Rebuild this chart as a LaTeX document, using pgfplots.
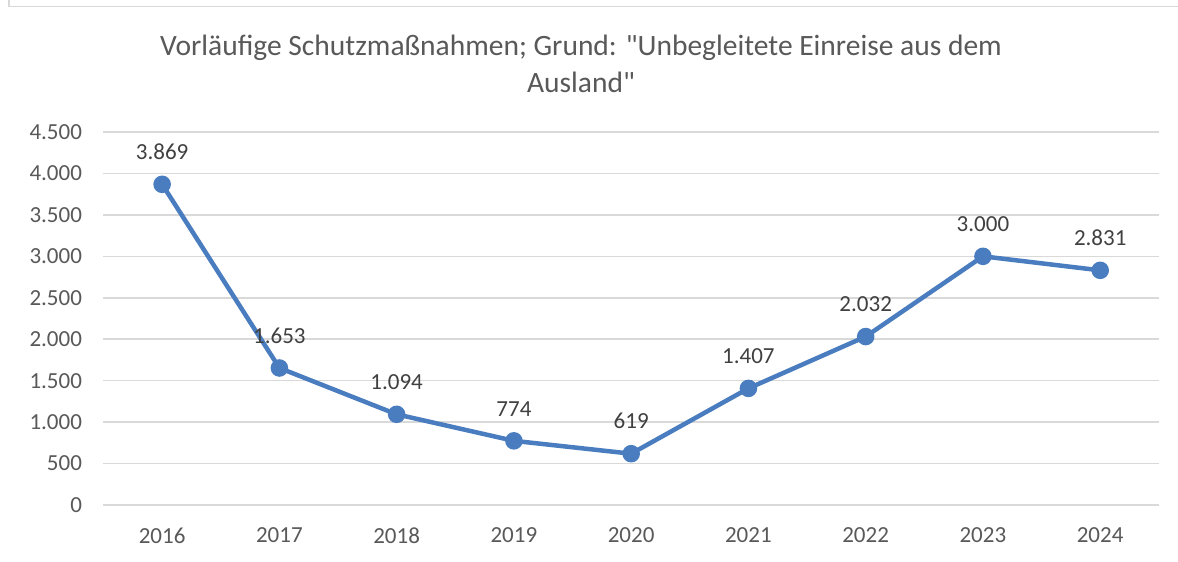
\documentclass[border=0pt]{standalone}
\usepackage{fontspec}
\setmainfont{Carlito}[Ligatures=TeXOff]
\usepackage{pgfplots}
\pgfplotsset{compat=1.18}
\definecolor{txtc}{HTML}{595959}
\definecolor{lblc}{HTML}{404040}
\definecolor{gridc}{HTML}{D9D9D9}
\definecolor{linec}{HTML}{4A7DBF}
\begin{document}
\begin{tikzpicture}
\useasboundingbox (0pt,0pt) rectangle (1178pt,562pt);
\fill[white] (0pt,0pt) rectangle (1178pt,562pt);
\draw[gridc,line width=1.5pt] (9pt,562pt) -- (9pt,555.5pt) -- (1178pt,555.5pt);
\node[txtc,align=center,font=\fontsize{29.5}{37}\selectfont] at (581pt,498pt) {Vorläufige Schutzmaßnahmen; Grund: "Unbegleitete Einreise aus dem\\Ausland"};
\begin{axis}[
  at={(103.5pt,57pt)}, anchor=south west,
  scale only axis, width=1055.5pt, height=373pt,
  xmin=2015.5, xmax=2024.5, ymin=0, ymax=4500,
  xtick={2016,...,2024},
  ytick={0,500,...,4500},
  xticklabel style={/pgf/number format/.cd,1000 sep={}},
  yticklabel style={/pgf/number format/.cd,1000 sep={.}},
  /pgf/number format/assume math mode=true,
  ymajorgrids=true, xmajorgrids=false,
  major grid style={draw=gridc,line width=1.5pt},
  axis line style={draw=none},
  major tick length=0pt,
  tick label style={txtc,font=\fontsize{23}{26}\selectfont},
  xticklabel shift=19pt,
  yticklabel shift=18pt,
  clip=false,
  nodes near coords,
  every node near coord/.append style={lblc,font=\fontsize{23}{26}\selectfont,yshift=19pt,/pgf/number format/.cd,1000 sep={.},assume math mode=true},
]
\addplot[linec, line width=4.5pt, mark=*, mark size=6.5pt, mark options={fill=linec,draw=none}] coordinates {
(2016,3869) (2017,1653) (2018,1094) (2019,774) (2020,619) (2021,1407) (2022,2032) (2023,3000) (2024,2831)};
\end{axis}
\end{tikzpicture}
\end{document}
